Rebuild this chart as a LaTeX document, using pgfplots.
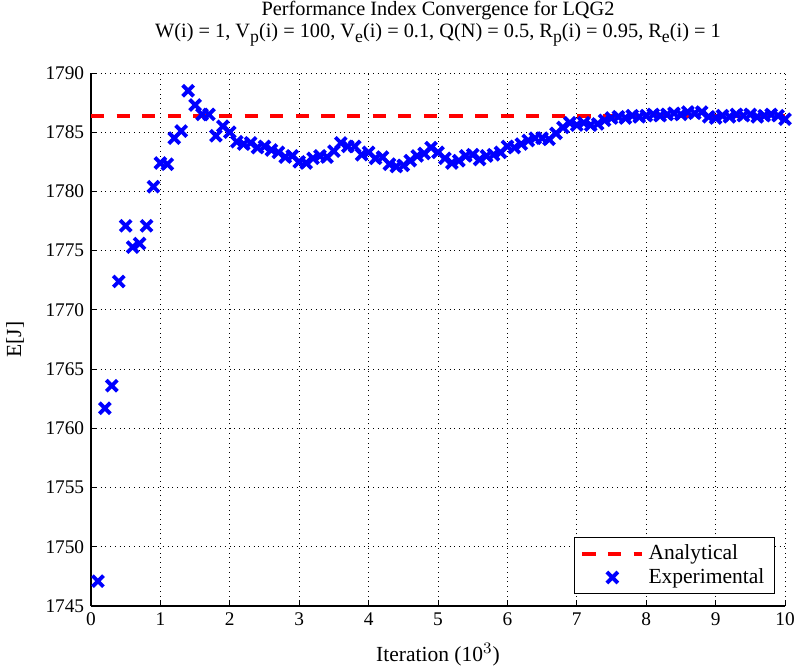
\documentclass[border=0pt]{standalone}
\usepackage{fontspec}
\setmainfont{Liberation Serif}
\usepackage{pgfplots}
\pgfplotsset{compat=1.18}
\newcommand\sub[1]{\raisebox{-0.55ex}{\fontsize{8.9pt}{9pt}\selectfont #1}}
\begin{document}
\fontsize{9.7pt}{11.2pt}\selectfont
\begin{tikzpicture}
\begin{axis}[
  name=ax,
  scale only axis,
  width=347bp, height=266.5bp,
  xmin=0, xmax=10, ymin=1745, ymax=1790,
  xtick={0,1,...,10}, ytick={1745,1750,...,1790},
  /pgf/number format/assume math mode=true,
  /pgf/number format/1000 sep={},
  axis x line*=bottom, axis y line*=left,
  axis line style={line width=0.6pt, -},
  tick style={black, line width=0.5pt},
  major tick length=3bp,
  tick align=inside,
  grid=major,
  major grid style={black, dotted, line width=0.5pt},
  tick label style={font=\fontsize{9.7pt}{11pt}\selectfont},
  xlabel={Iteration (10$^{3}$)},
  ylabel={E[J]},
  label style={font=\fontsize{10.8pt}{12pt}\selectfont},
  xlabel style={at={(axis description cs:0.5,0)}, anchor=center, yshift=-24.5bp},
  ylabel style={at={(axis description cs:-0.1095,0.5)}, anchor=center},
  title style={at={(axis description cs:0.5,1)}, anchor=center, yshift=18.5bp, align=center, font=\fontsize{10.2pt}{11bp}\selectfont},
  title={Performance Index Convergence for LQG2\\W(i) = 1, V\sub{p}(i) = 100, V\sub{e}(i) = 0.1, Q(N) = 0.5, R\sub{p}(i) = 0.95, R\sub{e}(i) = 1},
  legend cell align=left,
  legend style={at={(1,0)}, anchor=south east, xshift=-5bp, yshift=6bp,
    draw=black, line width=0.6pt, font=\fontsize{10.8pt}{12pt}\selectfont,
    inner xsep=3bp, inner ysep=1.5bp, row sep=-1bp},
  legend image code/.code={
    \draw[#1, mark repeat=2, mark phase=2] plot coordinates {(2bp,0bp) (17bp,0bp) (32bp,0bp)};
  },
  clip=false,
]
\addplot[red, line width=2.2bp, dash pattern=on 6.6bp off 6.2bp, no marks] coordinates {(0,1786.36) (10,1786.36)};
\addlegendentry{Analytical}
\addplot[only marks, blue, mark=x, mark size=3.9bp, line width=1.9bp] coordinates {
(0.1,1747.1) (0.2,1761.7) (0.3,1763.6) (0.4,1772.4) (0.5,1777.1)
(0.6,1775.3) (0.7,1775.6) (0.8,1777.1) (0.9,1780.4) (1.0,1782.4)
(1.1,1782.3) (1.2,1784.5) (1.3,1785.1) (1.4,1788.5) (1.5,1787.3)
(1.6,1786.5) (1.7,1786.5) (1.8,1784.7) (1.9,1785.5) (2.0,1785.0)
(2.1,1784.2) (2.2,1784.0) (2.3,1784.1) (2.4,1783.7) (2.5,1783.8)
(2.6,1783.5) (2.7,1783.3) (2.8,1782.9) (2.9,1783.0) (3.0,1782.5)
(3.1,1782.4) (3.2,1782.8) (3.3,1783.0) (3.4,1782.9) (3.5,1783.4)
(3.6,1784.1) (3.7,1783.8) (3.8,1783.8) (3.9,1783.1) (4.0,1783.3)
(4.1,1782.8) (4.2,1782.9) (4.3,1782.3) (4.4,1782.1) (4.5,1782.2)
(4.6,1782.6) (4.7,1783.0) (4.8,1783.2) (4.9,1783.7) (5.0,1783.3)
(5.1,1782.8) (5.2,1782.4) (5.3,1782.6) (5.4,1783.0) (5.5,1783.1)
(5.6,1782.7) (5.7,1783.0) (5.8,1783.1) (5.9,1783.3) (6.0,1783.8)
(6.1,1783.7) (6.2,1784.0) (6.3,1784.3) (6.4,1784.5) (6.5,1784.5)
(6.6,1784.4) (6.7,1784.9) (6.8,1785.4) (6.9,1785.8) (7.0,1785.6)
(7.1,1785.8) (7.2,1785.6) (7.3,1785.7) (7.4,1786.0) (7.5,1786.2)
(7.6,1786.3) (7.7,1786.2) (7.8,1786.4) (7.9,1786.3) (8.0,1786.4)
(8.1,1786.5) (8.2,1786.4) (8.3,1786.5) (8.4,1786.6) (8.5,1786.5)
(8.6,1786.7) (8.7,1786.6) (8.8,1786.7) (8.9,1786.3) (9.0,1786.2)
(9.1,1786.4) (9.2,1786.3) (9.3,1786.5) (9.4,1786.4) (9.5,1786.5)
(9.6,1786.3) (9.7,1786.4) (9.8,1786.5) (9.9,1786.4) (10.0,1786.1)
};
\addlegendentry{Experimental}
\end{axis}
\pgfresetboundingbox
\path ([xshift=-45.5bp, yshift=-30bp]ax.south west) rectangle ([xshift=5.5bp, yshift=36.5bp]ax.north east);
\end{tikzpicture}
\end{document}
